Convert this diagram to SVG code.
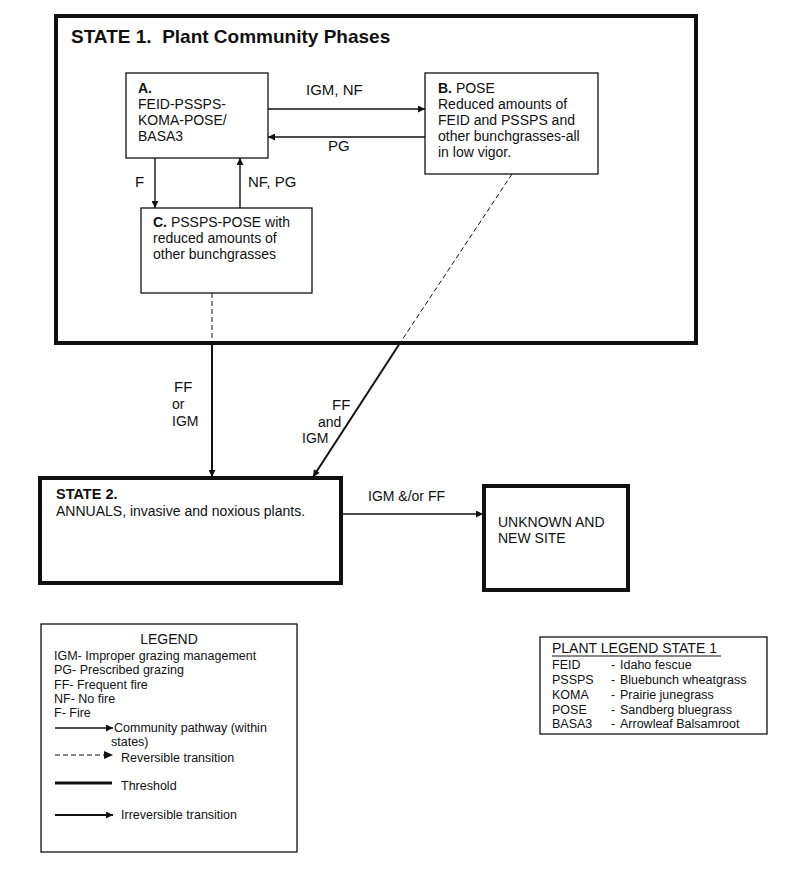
<svg xmlns="http://www.w3.org/2000/svg" width="800" height="876" viewBox="0 0 800 876">
<style>
text{font-family:"Liberation Sans",Arial,sans-serif;fill:#111}
.n{font-size:14px}
.lb{font-size:15px}
.lg{font-size:12.5px}
.b{font-weight:bold}
.box{fill:#fff;stroke:#111;stroke-width:1.3}
.state{fill:none;stroke:#111;stroke-width:4}
.path{stroke:#111;stroke-width:1.4;fill:none}
.thr{stroke:#111;stroke-width:2;fill:none}
.dash{stroke:#111;stroke-width:1;fill:none;stroke-dasharray:5,3}
</style>
<defs>
<marker id="ah" viewBox="0 0 10 10" refX="10" refY="5" markerWidth="9" markerHeight="7" markerUnits="userSpaceOnUse" orient="auto">
<path d="M0,0 L10,5 L0,10 z" fill="#111"/>
</marker>
</defs>
<rect width="800" height="876" fill="#fff"/>

<g id="state1">
<rect class="state" x="56" y="16" width="640" height="327"/>
<text x="71" y="43" class="b" style="font-size:19px" xml:space="preserve">STATE 1.  Plant Community Phases</text>
</g>

<g id="nodeA">
<rect class="box" x="126" y="73" width="142" height="85"/>
<text class="n" x="138" y="93"><tspan class="b">A.</tspan></text>
<text class="n" x="138" y="109">FEID-PSSPS-</text>
<text class="n" x="138" y="125">KOMA-POSE/</text>
<text class="n" x="138" y="141">BASA3</text>
</g>

<g id="nodeB">
<rect class="box" x="425" y="73" width="173" height="101"/>
<text class="n" x="438" y="93"><tspan class="b">B.</tspan> POSE</text>
<text class="n" x="438" y="109">Reduced amounts of</text>
<text class="n" x="438" y="125">FEID and PSSPS and</text>
<text class="n" x="438" y="141">other bunchgrasses-all</text>
<text class="n" x="438" y="157">in low vigor.</text>
</g>

<g id="nodeC">
<rect class="box" x="141" y="208" width="171" height="85"/>
<text class="n" x="153" y="227"><tspan class="b">C.</tspan> PSSPS-POSE with</text>
<text class="n" x="153" y="243">reduced amounts of</text>
<text class="n" x="153" y="259">other bunchgrasses</text>
</g>

<g id="state2">
<rect class="state" x="40" y="478" width="301" height="105"/>
<text x="56" y="499" class="b" style="font-size:14.5px">STATE 2.</text>
<text class="n" x="56" y="516">ANNUALS, invasive and noxious plants.</text>
</g>

<g id="unknown">
<rect class="state" x="484" y="486" width="144" height="104"/>
<text class="n" x="498" y="527">UNKNOWN AND</text>
<text class="n" x="498" y="543">NEW SITE</text>
</g>

<g id="connectors">
<line class="path" x1="268" y1="109" x2="425" y2="109" marker-end="url(#ah)"/>
<line class="path" x1="425" y1="137" x2="268" y2="137" marker-end="url(#ah)"/>
<line class="path" x1="155" y1="158" x2="155" y2="208" marker-end="url(#ah)"/>
<line class="path" x1="240" y1="208" x2="240" y2="158" marker-end="url(#ah)"/>
<line class="dash" x1="212" y1="293" x2="212" y2="343"/>
<line class="thr" x1="212" y1="343" x2="212" y2="477" marker-end="url(#ah)"/>
<line class="dash" x1="512" y1="174" x2="400" y2="343"/>
<line class="thr" x1="400" y1="343" x2="313" y2="477" marker-end="url(#ah)"/>
<line class="path" x1="342" y1="514" x2="483" y2="514" marker-end="url(#ah)"/>
<text class="lb" x="306" y="95">IGM, NF</text>
<text class="lb" x="328" y="151">PG</text>
<text class="lb" x="135" y="187">F</text>
<text class="lb" x="248" y="187">NF, PG</text>
<text class="lb" x="174" y="392">FF</text>
<text class="n" x="172" y="409">or</text>
<text class="n" x="172" y="426">IGM</text>
<text class="lb" x="332" y="410">FF</text>
<text class="n" x="318" y="427">and</text>
<text class="n" x="302" y="443">IGM</text>
<text class="n" x="368" y="501">IGM &amp;/or FF</text>
</g>

<g id="legend">
<rect class="box" x="41" y="624" width="256" height="228"/>
<text class="lg" x="169" y="644" text-anchor="middle" style="font-size:14px">LEGEND</text>
<text class="lg" x="54" y="660">IGM- Improper grazing management</text>
<text class="lg" x="54" y="674">PG- Prescribed grazing</text>
<text class="lg" x="54" y="689">FF- Frequent fire</text>
<text class="lg" x="54" y="703">NF- No fire</text>
<text class="lg" x="54" y="717">F- Fire</text>
<line class="path" x1="55" y1="728" x2="113" y2="728" stroke-width="1" marker-end="url(#ah)"/>
<text class="lg" x="114" y="732">Community pathway (within</text>
<text class="lg" x="111" y="746">states)</text>
<line class="dash" x1="55" y1="755" x2="105" y2="755"/>
<path d="M104,751 L113,755 L104,759 z" fill="#111"/>
<text class="lg" x="121" y="762">Reversible transition</text>
<line stroke="#111" stroke-width="2.8" x1="55" y1="783" x2="112" y2="783"/>
<text class="lg" x="121" y="790">Threshold</text>
<line class="thr" x1="55" y1="815" x2="113" y2="815" marker-end="url(#ah)"/>
<text class="lg" x="121" y="819">Irreversible transition</text>
</g>

<g id="plant-legend">
<rect class="box" x="540" y="637" width="227" height="97"/>
<text x="552" y="653" style="font-size:14px">PLANT LEGEND STATE 1</text>
<line x1="552" y1="656" x2="721" y2="656" stroke="#111" stroke-width="1"/>
<text class="lg" x="552" y="669">FEID</text><text class="lg" x="611" y="669">-</text><text class="lg" x="620" y="669">Idaho fescue</text>
<text class="lg" x="552" y="684">PSSPS</text><text class="lg" x="611" y="684">-</text><text class="lg" x="620" y="684">Bluebunch wheatgrass</text>
<text class="lg" x="552" y="699">KOMA</text><text class="lg" x="611" y="699">-</text><text class="lg" x="620" y="699">Prairie junegrass</text>
<text class="lg" x="552" y="714">POSE</text><text class="lg" x="611" y="714">-</text><text class="lg" x="620" y="714">Sandberg bluegrass</text>
<text class="lg" x="552" y="728">BASA3</text><text class="lg" x="611" y="728">-</text><text class="lg" x="620" y="728">Arrowleaf Balsamroot</text>
</g>
</svg>
